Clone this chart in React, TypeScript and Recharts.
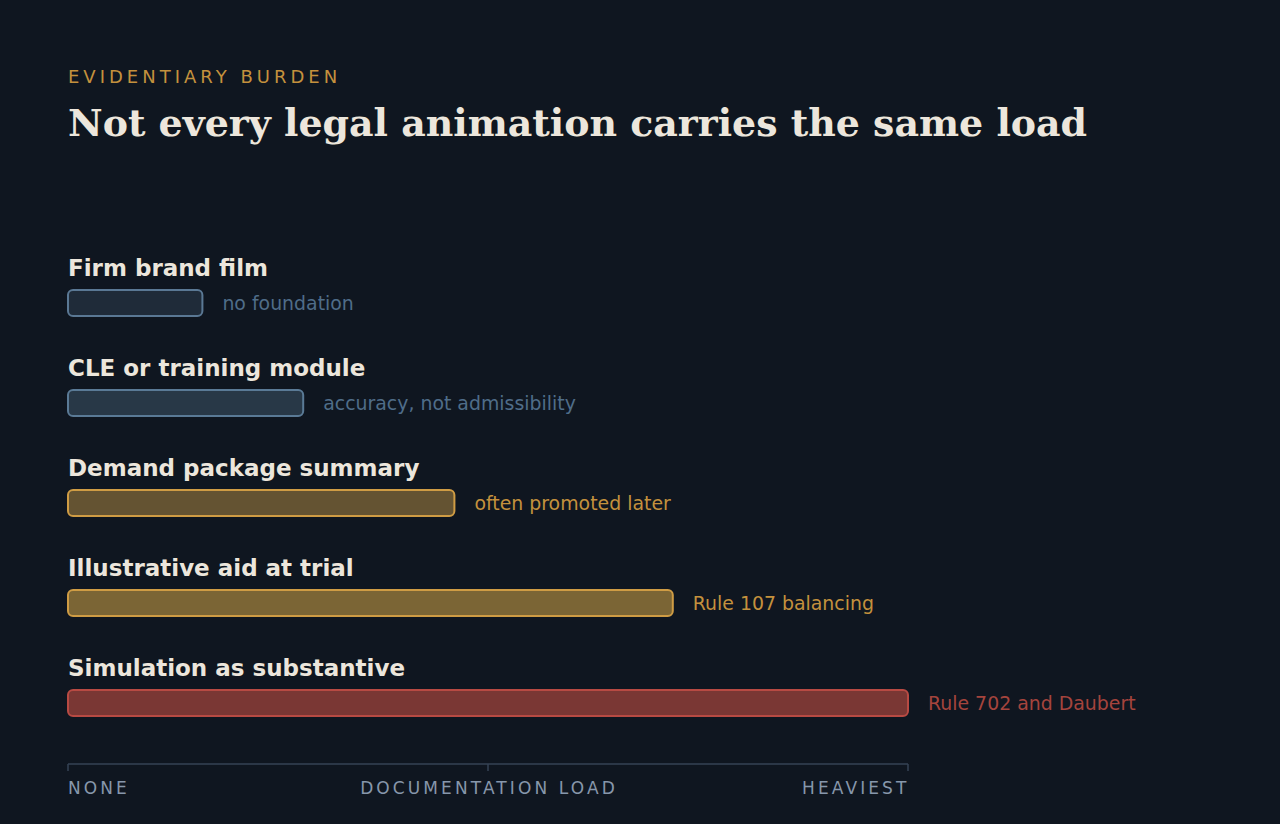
import React from 'react';
import { BarChart, Bar, XAxis, YAxis } from 'recharts';

const categories = [
  'Firm brand film',
  'CLE or training module',
  'Demand package summary',
  'Illustrative aid at trial',
  'Simulation as substantive',
];
const loadValues = [16, 28, 46, 72, 100];
const notes = [
  'no foundation',
  'accuracy, not admissibility',
  'often promoted later',
  'Rule 107 balancing',
  'Rule 702 and Daubert',
];
const axisTicks = [0, 50, 100];
const axisTickLabels = ['NONE', 'DOCUMENTATION LOAD', 'HEAVIEST'];

const barStyles = [
  { fill: '#1f2b39', stroke: '#5a7894', text: '#4f6d89' },
  { fill: '#283847', stroke: '#5a7a96', text: '#4f6d89' },
  { fill: '#645332', stroke: '#cf9c44', text: '#c4913d' },
  { fill: '#7b6535', stroke: '#cf9c44', text: '#c4913d' },
  { fill: '#7a3734', stroke: '#b84a43', text: '#a5443d' },
];

const data = categories.map((name, i) => ({ name, value: loadValues[i], note: notes[i], idx: i }));

const SANS = '"DejaVu Sans", sans-serif';
const AXIS_LS = 3.1;

const BarShape = (props: any) => {
  const { x, y, width, height, payload } = props;
  const s = barStyles[payload.idx];
  return (
    <g>
      <text x={x} y={y - 14} fill="#ece6dc" fontSize={23} fontWeight={700} fontFamily={SANS}>
        {payload.name}
      </text>
      <rect
        x={x}
        y={y}
        width={width}
        height={height}
        rx={5}
        ry={5}
        fill={s.fill}
        stroke={s.stroke}
        strokeWidth={2}
      />
      <text
        x={x + width + 20}
        y={y + height / 2 - 0.5}
        dominantBaseline="central"
        fill={s.text}
        fontSize={18.9}
        fontFamily={SANS}
      >
        {payload.note}
      </text>
    </g>
  );
};

const AxisTick = (props: any) => {
  const { x, y, payload } = props;
  const i = axisTicks.indexOf(payload.value);
  const last = axisTicks.length - 1;
  const anchor = i === 0 ? 'start' : i === last ? 'end' : 'middle';
  const shift = i === 0 ? 0 : i === last ? 1.5 : 1;
  return (
    <text
      x={x + shift}
      y={y + 21}
      textAnchor={anchor}
      fill="#8797ab"
      fontSize={17}
      letterSpacing={AXIS_LS}
      fontFamily={SANS}
    >
      {axisTickLabels[i]}
    </text>
  );
};

export default function App() {
  return (
    <div
      style={{
        position: 'absolute',
        left: 0,
        top: 0,
        width: 1280,
        height: 824,
        background: '#0f1620',
        overflow: 'hidden',
      }}
    >
      <div
        style={{
          position: 'absolute',
          left: 68,
          top: 66,
          color: '#c4913d',
          fontFamily: SANS,
          fontSize: 18,
          letterSpacing: 4.0,
          lineHeight: '22px',
        }}
      >
        EVIDENTIARY BURDEN
      </div>
      <div
        style={{
          position: 'absolute',
          left: 68,
          top: 100,
          color: '#ece6dc',
          fontFamily: '"DejaVu Serif", serif',
          fontWeight: 700,
          fontSize: 37.9,
          lineHeight: '46px',
          whiteSpace: 'nowrap',
        }}
      >
        Not every legal animation carries the same load
      </div>
      <div style={{ position: 'absolute', left: 0, top: 0 }}>
        <BarChart
          width={1280}
          height={824}
          data={data}
          layout="vertical"
          margin={{ top: 253, right: 372, bottom: 0, left: 68 }}
          barSize={26}
        >
          <XAxis
            type="number"
            domain={[0, 100]}
            ticks={axisTicks}
            interval={0}
            height={60}
            axisLine={{ stroke: '#364354', strokeWidth: 1.5 }}
            tickLine={{ stroke: '#364354', strokeWidth: 1.5 }}
            tickSize={7}
            tick={<AxisTick />}
          />
          <YAxis type="category" dataKey="name" hide width={0} padding={{ top: 0, bottom: 11 }} />
          <Bar dataKey="value" isAnimationActive={false} shape={<BarShape />} />
        </BarChart>
      </div>
    </div>
  );
}
